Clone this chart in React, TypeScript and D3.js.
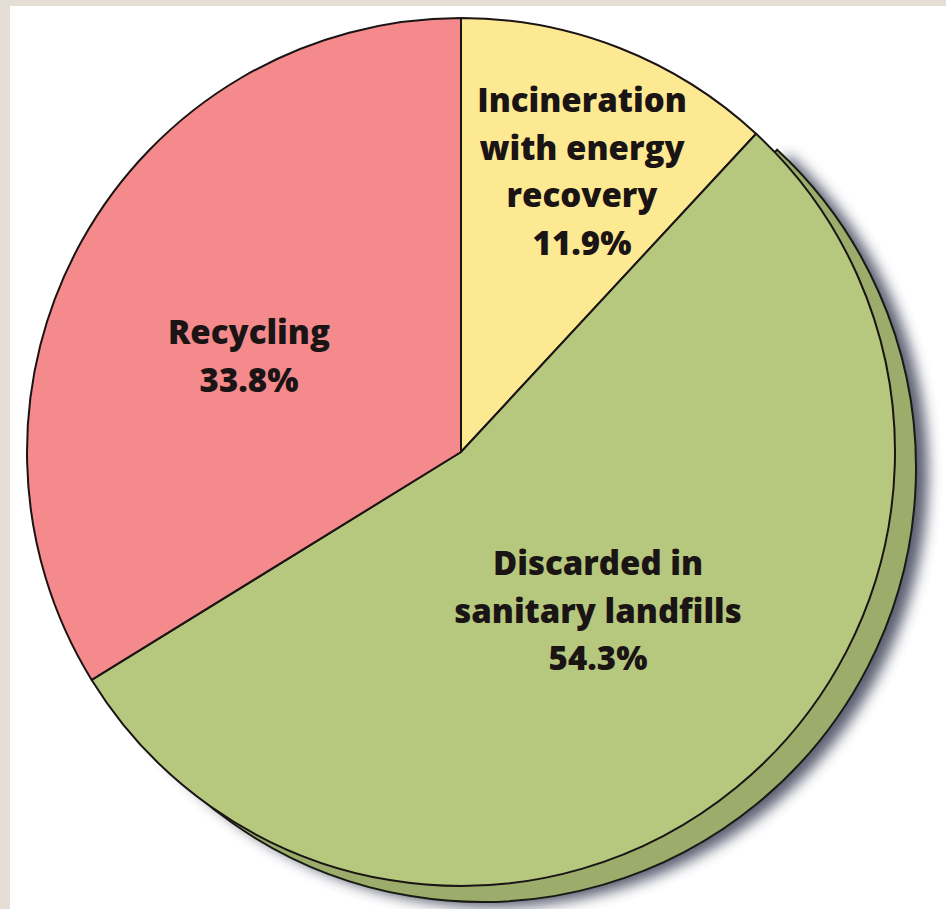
import React from "react";
import * as d3 from "d3";

// Municipal solid waste management shares (%)
const categories = ["Incineration with energy recovery", "Discarded in sanitary landfills", "Recycling"];
const shares = [11.9, 54.3, 33.8];
const labelLines = [
  ["Incineration", "with energy", "recovery", "11.9%"],
  ["Discarded in", "sanitary landfills", "54.3%"],
  ["Recycling", "33.8%"],
];
const colors = ["#fde992", "#b6c87e", "#f48a8c"];

const W = 946;
const H = 909;
const CX = 461;
const CY = 452;
const R = 434;
// depth offset of the raised landfill wedge
const DEPTH_X = 21;
const DEPTH_Y = 16;

// label anchor (x, first baseline) for each wedge, and line step
const labelAnchors: [number, number][] = [
  [582, 112],
  [598, 575],
  [249, 344],
];
const LINE_STEP = 47.5;

export default function App() {
  const pie = d3
    .pie<number>()
    .sort(null)
    .value((d) => d)
    .startAngle(0)
    .endAngle(2 * Math.PI);
  const arcs = pie(shares);
  const arc = d3.arc<d3.PieArcDatum<number>>().innerRadius(0).outerRadius(R);
  const landfill = arcs[1];

  return (
    <svg
      width={W}
      height={H}
      style={{ position: "absolute", left: 0, top: 0 }}
      xmlns="http://www.w3.org/2000/svg"
    >
      <defs>
        <filter id="soft" x="-30%" y="-30%" width="160%" height="160%">
          <feGaussianBlur stdDeviation="7" />
        </filter>
      </defs>
      <rect x={0} y={0} width={W} height={H} fill="#e4ded4" />
      <rect x={10} y={6} width={W - 10} height={H - 6} fill="#ffffff" />

      {/* soft shadow behind the raised wedge */}
      <path
        d={arc(landfill) || ""}
        transform={`translate(${CX + DEPTH_X + 12},${CY + DEPTH_Y + 5})`}
        fill="#3e4258"
        opacity={0.85}
        filter="url(#soft)"
      />
      {/* side of the raised wedge */}
      <path
        d={arc(landfill) || ""}
        transform={`translate(${CX + DEPTH_X},${CY + DEPTH_Y})`}
        fill="#9cad6b"
        stroke="#1a1a14"
        strokeWidth={2}
      />

      <g transform={`translate(${CX},${CY})`}>
        {arcs.map((a, i) => (
          <path
            key={categories[i]}
            d={arc(a) || ""}
            fill={colors[i]}
            stroke="#1a1414"
            strokeWidth={2}
            strokeLinejoin="round"
          />
        ))}
      </g>

      {labelLines.map((lines, i) => (
        <text
          key={categories[i]}
          textAnchor="middle"
          fontFamily="'Open Sans', 'Noto Sans', sans-serif"
          fontWeight={800}
          fontSize={33}
          fill="#1a1414"
        >
          {lines.map((ln, j) => (
            <tspan key={j} x={labelAnchors[i][0]} y={labelAnchors[i][1] + j * LINE_STEP}>
              {ln}
            </tspan>
          ))}
        </text>
      ))}
    </svg>
  );
}
